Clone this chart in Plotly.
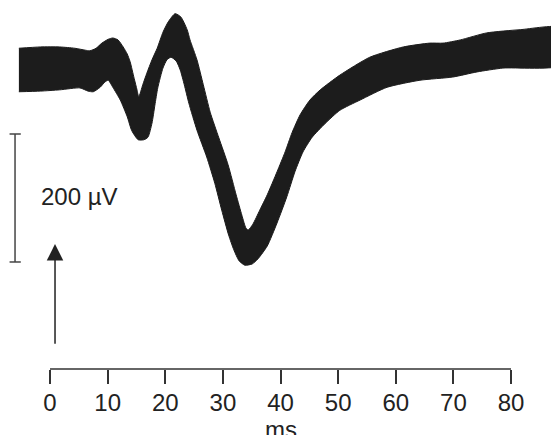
import plotly.graph_objects as go

# Upper outline of the thick trace (time in ms, amplitude in µV)
upper_ms = [-5.4, -1.7, 1.7, 4.3, 6.1, 6.9, 8.0, 9.0, 10.1, 10.9, 11.8, 12.7, 13.4, 13.9,
            14.6, 15.1, 15.4, 16.1, 16.8, 17.7, 18.6, 19.6, 20.5, 21.7, 22.7, 23.8, 24.3,
            25.5, 26.6, 27.8, 29.3, 30.9, 32.3, 33.3, 34.0, 34.4, 35.2, 36.4, 37.7, 39.4,
            40.8, 42.0, 43.4, 45.1, 46.9, 50.3, 55.5, 61.3, 65.9, 68.2, 71.2, 75.8, 81.6, 89.0]
upper_uv = [34, 36, 36, 34, 31, 30, 34, 42, 48, 50, 47, 36, 25, 13,
            -13, -31, -42, -23, -5, 16, 34, 59, 75, 88, 83, 63, 47,
            16, -23, -66, -106, -148, -195, -227, -247, -250, -241, -219, -195, -159,
            -128, -98, -70, -47, -31, -8, 20, 36, 42, 42, 47, 58, 63, 66]

# Lower outline of the thick trace
lower_ms = [-5.4, -1.7, 1.7, 5.2, 6.6, 7.5, 8.7, 9.5, 10.1, 10.9, 12.2, 13.4, 14.2, 15.3,
            16.3, 17.0, 17.7, 18.2, 18.7, 19.6, 20.3, 21.0, 21.9, 22.6, 23.3, 24.1, 25.5,
            27.2, 28.6, 29.8, 31.0, 31.9, 32.8, 33.8, 35.1, 36.1, 37.7, 39.4, 41.1, 42.5,
            43.9, 45.5, 47.7, 50.3, 53.8, 58.5, 64.2, 69.9, 74.1, 78.6, 89.0]
lower_uv = [-34, -33, -31, -28, -33, -34, -27, -19, -16, -27, -47, -73, -95, -109,
            -109, -105, -83, -55, -28, 3, 16, 20, 14, 0, -23, -52, -94,
            -136, -177, -219, -258, -281, -298, -305, -303, -295, -275, -239, -198, -159,
            -128, -105, -84, -63, -47, -27, -16, -11, -3, 3, 8]

tick_ms = [0, 10, 20, 30, 40, 50, 60, 70, 80]
tick_labels = ["0", "10", "20", "30", "40", "50", "60", "70", "80"]

scale_bar_uv = 200
scale_bar_top_uv = -100
scale_bar_ms = -6.07
stim_ms = 0.87
stim_from_uv = -430
stim_to_uv = -272

ink = "#1c1c1c"
txt = "#222222"
font_family = "Liberation Sans, Arial, Helvetica, sans-serif"

poly_x = upper_ms + lower_ms[::-1]
poly_y = upper_uv + lower_uv[::-1]

fig = go.Figure()
fig.add_trace(go.Scatter(
    x=poly_x, y=poly_y, mode="lines", fill="toself",
    fillcolor=ink, line=dict(color=ink, width=1, shape="spline", smoothing=0.6),
    hoverinfo="skip", showlegend=False,
))

# x-axis baseline from 0 to 80 ms
fig.add_shape(type="line", xref="x", yref="paper", x0=tick_ms[0], x1=tick_ms[-1], y0=0, y1=0,
              line=dict(color="#333333", width=1.5))

# vertical calibration bar
sb_bottom = scale_bar_top_uv - scale_bar_uv
fig.add_shape(type="line", xref="x", yref="y", x0=scale_bar_ms, x1=scale_bar_ms,
              y0=scale_bar_top_uv, y1=sb_bottom, line=dict(color="#444444", width=1.5))
for yy in (scale_bar_top_uv, sb_bottom):
    fig.add_shape(type="line", xref="x", yref="y", x0=scale_bar_ms - 0.95, x1=scale_bar_ms + 1.0,
                  y0=yy, y1=yy, line=dict(color="#444444", width=1.5))

fig.add_annotation(x=-1.9, y=(scale_bar_top_uv + sb_bottom) / 2 + 2, xref="x", yref="y",
                   text=f"{scale_bar_uv} \u00b5V", showarrow=False, xanchor="left", yanchor="middle",
                   font=dict(size=24, color=txt, family=font_family))

# stimulus arrow
fig.add_annotation(x=stim_ms, y=stim_to_uv, ax=stim_ms, ay=stim_from_uv, xref="x", yref="y",
                   axref="x", ayref="y", text="", showarrow=True, arrowhead=2, arrowsize=2.2,
                   arrowwidth=1.5, arrowcolor="#222222")

# axis title (sits just below the tick labels, partly at the bottom edge as in the original)
fig.add_annotation(x=40, y=-0.1233, xref="x", yref="paper", text="ms", showarrow=False,
                   xanchor="center", yanchor="top", font=dict(size=24, color=txt, family=font_family))

# figure is sized so that, with the page's default 8px body margin, it fills the window exactly
fig.update_layout(
    width=551, height=427,
    margin=dict(l=0, r=0, t=0, b=66),
    paper_bgcolor="white", plot_bgcolor="white",
    showlegend=False,
    xaxis=dict(range=[-7.29, 88.33], showgrid=False, zeroline=False, showline=False,
               tickmode="array", tickvals=tick_ms, ticktext=tick_labels,
               ticks="outside", ticklen=14, tickwidth=1.5, tickcolor="#333333",
               ticklabelstandoff=-2,
               tickfont=dict(size=24, color=txt, family=font_family)),
    yaxis=dict(range=[-467.2, 96.875], showgrid=False, zeroline=False, showline=False,
               showticklabels=False, ticks=""),
)

fig.write_html("out.html")
